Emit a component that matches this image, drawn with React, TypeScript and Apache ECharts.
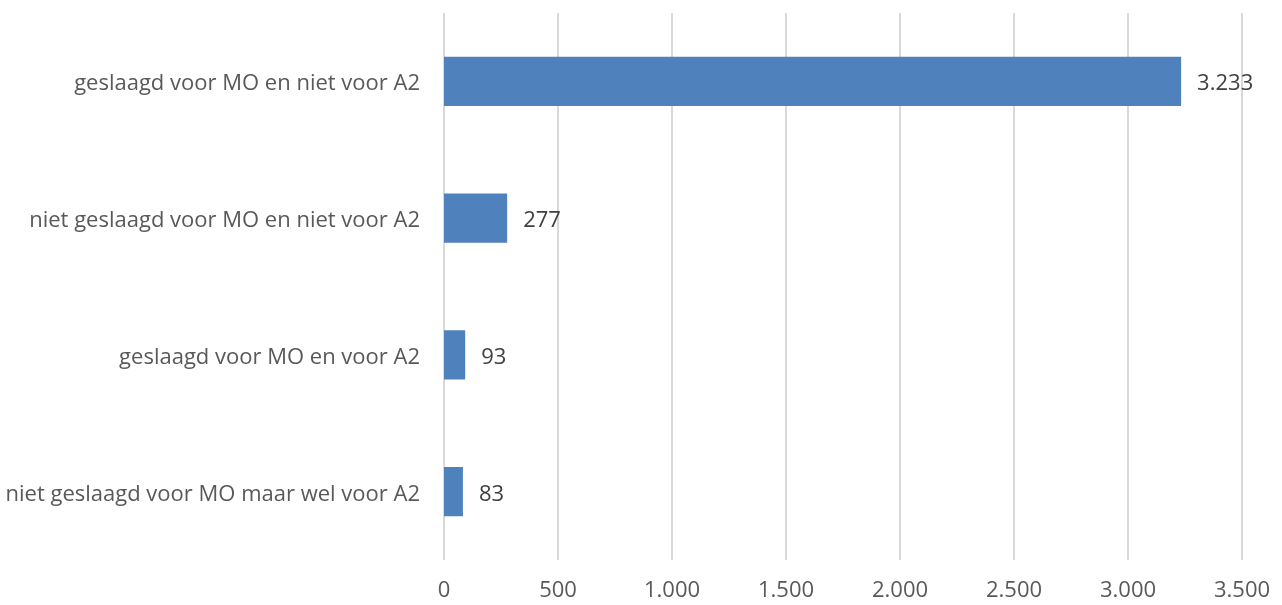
import React, { useEffect, useRef } from "react";
import * as echarts from "echarts";

const categories = [
  "niet geslaagd voor MO maar wel voor A2",
  "geslaagd voor MO en voor A2",
  "niet geslaagd voor MO en niet voor A2",
  "geslaagd voor MO en niet voor A2",
];
const values = [83, 93, 277, 3233];

const fmt = (v: number) => String(v).replace(/\B(?=(\d{3})+(?!\d))/g, ".");

export default function App() {
  const ref = useRef<HTMLDivElement>(null);
  useEffect(() => {
    const chart = echarts.init(ref.current!, null, { renderer: "svg" });
    chart.setOption({
      animation: false,
      grid: { left: 444, right: 40, top: 13, bottom: 45, containLabel: false },
      xAxis: {
        type: "value",
        min: 0,
        max: 3500,
        interval: 500,
        axisLine: { show: false },
        axisTick: { show: false },
        splitLine: { show: true, lineStyle: { color: "#d9d9d9", width: 2 } },
        axisLabel: {
          color: "#595959",
          fontFamily: "Open Sans",
          fontSize: 22,
          lineHeight: 20,
          margin: 18,
          formatter: (v: number) => fmt(v),
        },
      },
      yAxis: {
        type: "category",
        data: categories,
        axisLine: { show: false },
        axisTick: { show: false },
        axisLabel: {
          color: "#595959",
          fontFamily: "Open Sans",
          fontSize: 22,
          margin: 24,
        },
      },
      series: [
        {
          type: "bar",
          data: values,
          barCategoryGap: "64%",
          itemStyle: { color: "#4f81bd" },
          label: {
            show: true,
            position: "right",
            distance: 16,
            color: "#404040",
            fontFamily: "Open Sans",
            fontSize: 22,
            formatter: (p: any) => fmt(p.value),
          },
        },
      ],
    });
    return () => chart.dispose();
  }, []);
  return (
    <div
      ref={ref}
      style={{ position: "fixed", left: 0, top: 0, width: 1282, height: 605 }}
    />
  );
}
